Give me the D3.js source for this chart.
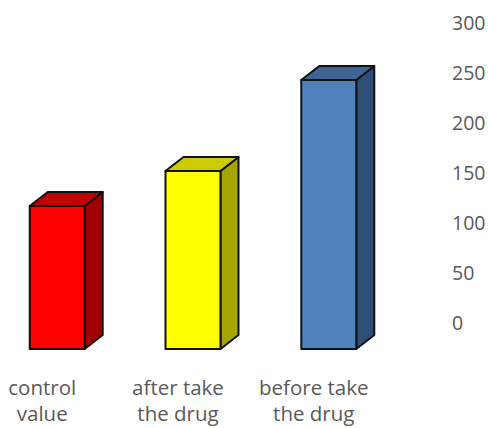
<!DOCTYPE html>
<html lang="en">
<head>
<meta charset="UTF-8">
<title>control vs drug</title>
<script src="https://d3js.org/d3.v7.min.js"></script>
<style>
    body { margin: 0; background: #ffffff; }
    text { font-family: "Open Sans", Lato, sans-serif; fill: #595959; }
</style>
</head>
<body>
<svg id="chart" width="488" height="428"></svg>
<script>
    // data
    const categories = [["control", "value"], ["after take", "the drug"], ["before take", "the drug"]];
    const values = [143, 178, 269];
    const frontColors = ["#ff0000", "#ffff00", "#4f81bd"];
    const topColors = ["#c00000", "#cccc00", "#3e6594"];
    const sideColors = ["#a00000", "#a6a600", "#2f4f79"];
    const yTicks = [0, 50, 100, 150, 200, 250, 300];

    const svg = d3.select("#chart");

    // 3d depth offset of the columns
    const depth = { dx: 18, dy: -14 };

    const xScale = d3.scaleBand()
        .domain(d3.range(categories.length))
        .range([-11, 397])
        .paddingInner(0.595)
        .paddingOuter(0.3);

    const yScale = d3.scaleLinear()
        .domain([0, 300])
        .range([349, 49]);

    const bars = svg.selectAll(".bar")
        .data(values)
        .enter()
        .append("g")
        .attr("class", "bar")
        .attr("stroke", "#111")
        .attr("stroke-width", 2)
        .attr("stroke-linejoin", "round");

    // side face
    bars.append("path")
        .attr("fill", (d, i) => sideColors[i])
        .attr("d", (d, i) => {
            const x1 = xScale(i) + xScale.bandwidth();
            const y0 = yScale(0), y1 = yScale(d);
            return `M${x1},${y1}L${x1 + depth.dx},${y1 + depth.dy}L${x1 + depth.dx},${y0 + depth.dy}L${x1},${y0}Z`;
        });

    // top face
    bars.append("path")
        .attr("fill", (d, i) => topColors[i])
        .attr("d", (d, i) => {
            const x0 = xScale(i), x1 = x0 + xScale.bandwidth();
            const y1 = yScale(d);
            return `M${x0},${y1}L${x0 + depth.dx},${y1 + depth.dy}L${x1 + depth.dx},${y1 + depth.dy}L${x1},${y1}Z`;
        });

    // front face
    bars.append("rect")
        .attr("fill", (d, i) => frontColors[i])
        .attr("x", (d, i) => xScale(i))
        .attr("y", d => yScale(d))
        .attr("width", xScale.bandwidth())
        .attr("height", d => yScale(0) - yScale(d));

    // value axis on the back wall, right side
    const yAxis = svg.append("g")
        .attr("transform", "translate(452,-26)")
        .call(d3.axisRight(yScale).tickValues(yTicks).tickSize(0).tickPadding(0));
    yAxis.select(".domain").remove();
    yAxis.selectAll("text")
        .attr("font-family", null)
        .style("font-size", "19.5px")
        .attr("text-anchor", "start");

    // category labels, two lines each
    const labels = svg.selectAll(".cat")
        .data(categories)
        .enter()
        .append("text")
        .attr("class", "cat")
        .attr("text-anchor", "middle")
        .style("font-size", "20.5px");

    labels.selectAll("tspan")
        .data(d => d)
        .enter()
        .append("tspan")
        .attr("x", function() {
            const i = categories.indexOf(d3.select(this.parentNode).datum());
            return xScale(i) + xScale.bandwidth() / 2 - 15;
        })
        .attr("y", (d, j) => 395 + j * 26)
        .text(d => d);
</script>
</body>
</html>
